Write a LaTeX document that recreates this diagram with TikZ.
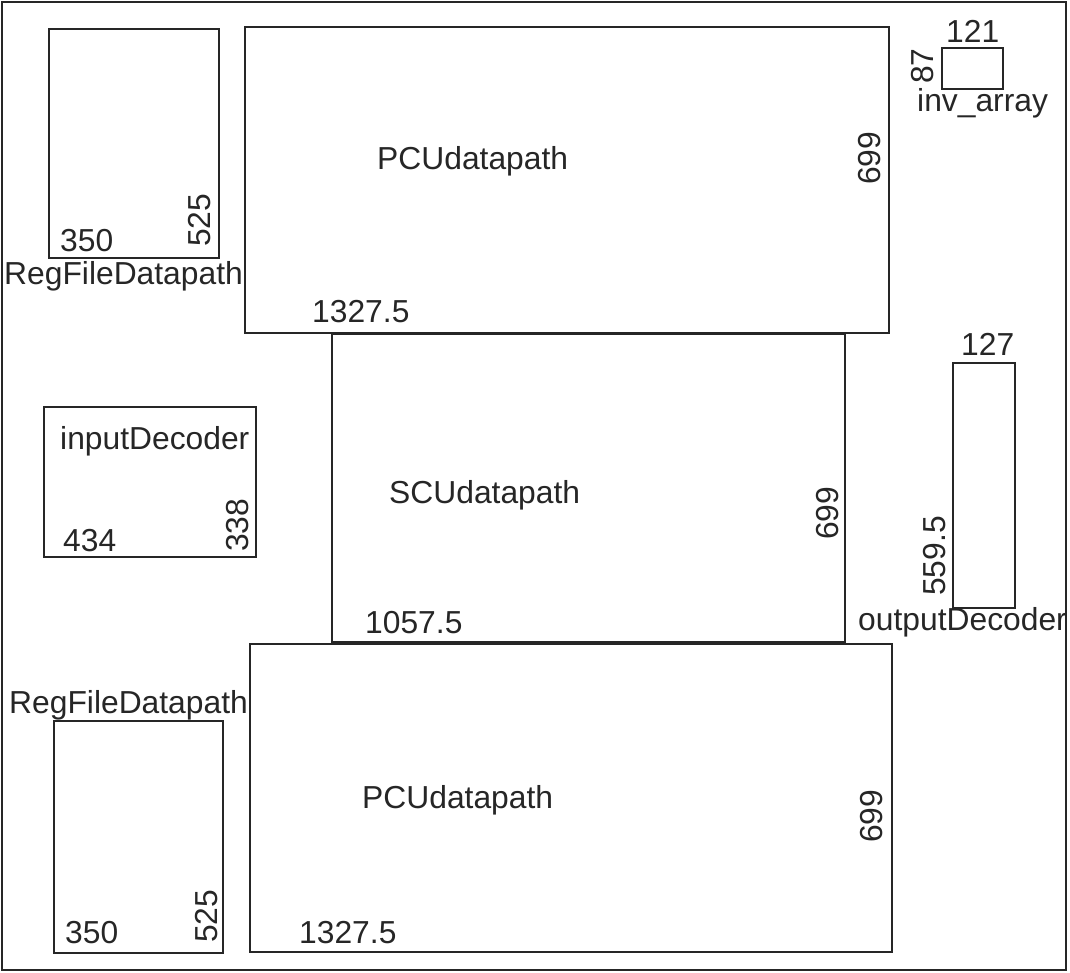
\documentclass[tikz,border=0pt]{standalone}
\usepackage{fontspec}
\setmainfont{Liberation Sans}
\begin{document}
\begin{tikzpicture}[x=1pt,y=-1pt,
  box/.style={draw=black!85,line width=1.6pt},
  lbl/.style={inner sep=0pt,anchor=base west,text=black!85,font=\fontsize{31.8}{36}\selectfont},
  vlbl/.style={lbl,rotate=90}]
\useasboundingbox (0,0) rectangle (1070,973);
\draw[box] (2,2) rectangle (1066,970);
% boxes
\draw[box] (49,29) rectangle (219,258);
\draw[box] (245,27) rectangle (889,333);
\draw[box] (942,48) rectangle (1003,89);
\draw[box] (332,334) rectangle (845,642);
\draw[box] (44,407) rectangle (256,557);
\draw[box] (953,363) rectangle (1015,608);
\draw[box] (54,721) rectangle (223,953);
\draw[box] (250,644) rectangle (892,952);
% top RegFileDatapath
\node[lbl] (rf1w) at (60,252) {350};
\node[vlbl] (rf1h) at (210,247) {525};
\node[lbl] (rf1n) at (4,285) {RegFileDatapath};
% top PCU
\node[lbl] (pcu1n) at (377,170) {PCUdatapath};
\node[lbl] (pcu1w) at (312,323) {1327.5};
\node[vlbl] (pcu1h) at (880,185) {699};
% inv_array
\node[lbl] (invw) at (946,43) {121};
\node[vlbl] (invh) at (933,84) {87};
\node[lbl] (invn) at (917,112) {inv\_array};
% SCU
\node[lbl] (scun) at (389,503) {SCUdatapath};
\node[lbl] (scuw) at (365,633) {1057.5};
\node[vlbl] (scuh) at (838,540) {699};
% inputDecoder
\node[lbl] (idn) at (60,449) {inputDecoder};
\node[lbl] (idw) at (63,551) {434};
\node[vlbl] (idh) at (248,552) {338};
% outputDecoder
\node[lbl] (odw) at (961,355) {127};
\node[vlbl] (odh) at (945,596) {559.5};
\node[lbl] (odn) at (858,630) {outputDecoder};
% bottom RegFileDatapath
\node[lbl] (rf2n) at (9,713) {RegFileDatapath};
\node[lbl] (rf2w) at (65,943) {350};
\node[vlbl] (rf2h) at (217,943) {525};
% bottom PCU
\node[lbl] (pcu2n) at (362,808) {PCUdatapath};
\node[lbl] (pcu2w) at (299,943) {1327.5};
\node[vlbl] (pcu2h) at (882,843) {699};
\end{tikzpicture}
\end{document}
